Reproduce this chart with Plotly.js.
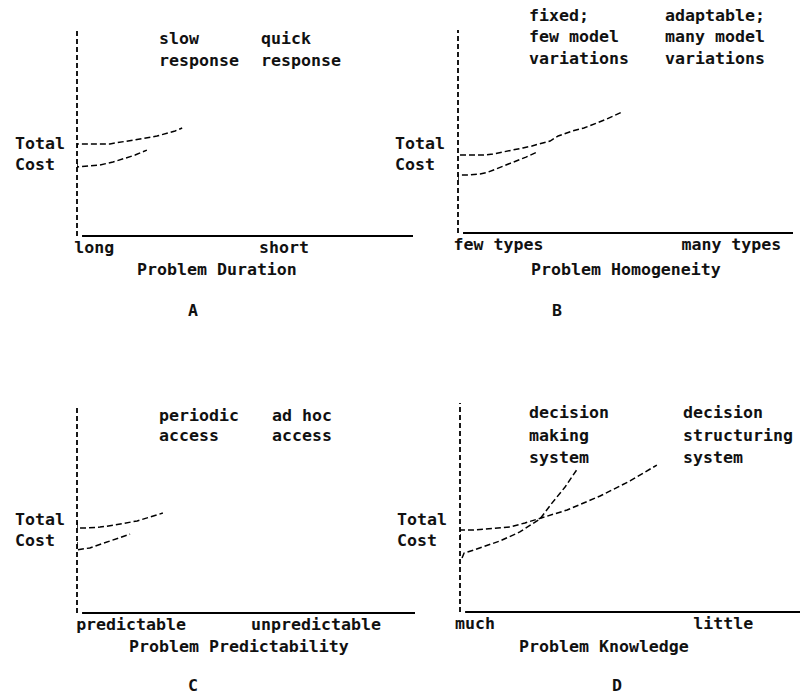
<!DOCTYPE html>
<html><head><meta charset="utf-8">
<script src="https://cdn.plot.ly/plotly-3.0.1.min.js"></script>
<style>html,body{margin:0;padding:0;background:#fff}#chart{width:801px;height:696px}</style>
</head><body><div id="chart"></div>
<script>
// ---- data (arbitrary 0-100 conceptual scale) ----
// Panel A: Problem Duration
const aTickVals = [5.1, 61.6];
const aTickText = ["long", "short"];
const aUpperX = [0, 0, 9.8, 20.8, 23.8, 29.2, 31.3];
const aUpperY = [42.7, 44.7, 44.7, 47.6, 48.5, 51.0, 52.4];
const aLowerX = [0, 0, 6.8, 10.7, 17.3, 20.8];
const aLowerY = [35.4, 33.5, 34.5, 35.9, 39.3, 41.7];
// Panel B: Problem Homogeneity
const bTickVals = [12.1, 81.6];
const bTickText = ["few types", "many types"];
const bUpperX = [0.6, 7.5, 10.4, 15.5, 19.4, 22.1, 27.5, 29.9, 34.0, 37.6, 44.5, 49.0];
const bUpperY = [38.4, 38.4, 38.9, 40.4, 41.9, 42.9, 45.3, 47.8, 50.2, 51.7, 56.2, 59.6];
const bLowerX = [0, 0, 3.6, 6.6, 9.0, 11.3, 18.5, 20.3, 23.6];
const bLowerY = [26.1, 28.6, 28.6, 29.1, 30.0, 31.5, 36.0, 37.4, 39.9];
// Panel C: Problem Predictability
const cTickVals = [16.0, 70.7];
const cTickText = ["predictable", "unpredictable"];
const cUpperX = [0, 0, 3.0, 6.8, 11.2, 17.8, 21.6, 25.4];
const cUpperY = [44.2, 41.3, 41.3, 41.7, 42.7, 44.7, 46.6, 48.5];
const cLowerX = [0, 0, 3.8, 8.3, 15.7];
const cLowerY = [34.5, 30.6, 31.6, 34.0, 38.3];
// Panel D: Problem Knowledge
const dTickVals = [4.4, 77.4];
const dTickText = ["much", "little"];
const dMakingX = [0.6, 1.2, 4.1, 11.8, 17.6, 23.5, 27.1, 30.9, 34.7];
const dMakingY = [25.8, 28.2, 29.7, 34.0, 38.3, 44.5, 52.2, 59.8, 68.9];
const dStructX = [0, 0, 3.8, 10.3, 14.7, 19.1, 25.0, 31.5, 41.2, 50.0, 57.9];
const dStructY = [34.4, 39.2, 39.2, 40.2, 40.7, 42.6, 45.5, 48.8, 55.5, 62.7, 70.3];

// ---- text ----
const axisTitles = ["Problem Duration", "Problem Homogeneity", "Problem Predictability", "Problem Knowledge"];
const panelLetters = ["A", "B", "C", "D"];
const yLabel = ["Total", "Cost"];
const headA = [["slow", "response"], ["quick", "response"]];
const headB = [["fixed;", "few model", "variations"], ["adaptable;", "many model", "variations"]];
const headC = [["periodic", "access"], ["ad hoc", "access"]];
const headD = [["decision", "making", "system"], ["decision", "structuring", "system"]];

// ---- layout geometry (pixels in the 801x696 canvas) ----
const W = 801, H = 696;
const FONT = {family: "DejaVu Sans Mono", size: 16.6, color: "#111", weight: "bold"};
const px = x => x / W;
const py = y => 1 - y / H;

const boxes = [
  {l: 77, r: 413, t: 30, b: 236},
  {l: 458, r: 793, t: 30, b: 233},
  {l: 77, r: 415, t: 407, b: 613},
  {l: 460, r: 800, t: 403, b: 612}
];
const ticks = [[aTickVals, aTickText], [bTickVals, bTickText], [cTickVals, cTickText], [dTickVals, dTickText]];

const layout = {
  width: W, height: H,
  margin: {l: 0, r: 0, t: 0, b: 0},
  paper_bgcolor: "#fff", plot_bgcolor: "#fff",
  showlegend: false,
  font: FONT,
  shapes: [],
  annotations: []
};

boxes.forEach((bx, i) => {
  const n = i === 0 ? "" : String(i + 1);
  layout["xaxis" + n] = {
    domain: [px(bx.l), px(bx.r)], range: [0, 100], anchor: "y" + n,
    showline: false, showgrid: false, zeroline: false,
    ticks: "", tickvals: ticks[i][0], ticktext: ticks[i][1], tickfont: FONT,
    ticklabelstandoff: -1,
    fixedrange: true
  };
  layout["yaxis" + n] = {
    domain: [py(bx.b), py(bx.t)], range: [0, 100], anchor: "x" + n,
    showline: false, showgrid: false, zeroline: false, showticklabels: false, ticks: "",
    fixedrange: true
  };
  // dashed vertical axis
  layout.shapes.push({
    type: "line", xref: "x" + n + " domain", yref: "y" + n + " domain",
    x0: 0, x1: 0, y0: 0, y1: 1,
    line: {color: "#000", width: 1.8, dash: "5px,3px"}
  });
  // solid horizontal axis, starting just right of the vertical one
  layout.shapes.push({
    type: "line", xref: "x" + n + " domain", yref: "y" + n + " domain",
    x0: 0.015, x1: 1, y0: 0, y1: 0,
    line: {color: "#000", width: 2.2}
  });
});

function ann(text, x, y, xanchor) {
  layout.annotations.push({
    text: text, xref: "paper", yref: "paper", x: px(x), y: py(y),
    xanchor: xanchor || "left", yanchor: "middle", showarrow: false, font: FONT
  });
}
// axis titles and letters
const titlePos = [[217, 269], [626, 269], [239, 646], [604, 646]];
const letterPos = [[193, 310], [557, 310], [193, 685], [617, 685]];
axisTitles.forEach((t, i) => ann(t, titlePos[i][0], titlePos[i][1], "center"));
panelLetters.forEach((t, i) => ann(t, letterPos[i][0], letterPos[i][1], "center"));
// Total Cost labels
const yLabPos = [[13, 143], [393, 143], [13, 519], [395, 519]];
yLabPos.forEach(p => { ann(yLabel[0], p[0], p[1]); ann(yLabel[1], p[0], p[1] + 21); });
// header labels
function head(lines, x, y0, dy) { lines.forEach((s, k) => ann(s, x, y0 + k * dy)); }
head(headA[0], 157, 38, 22); head(headA[1], 259, 38, 22);
head(headB[0], 527, 15, 21.5); head(headB[1], 663, 15, 21.5);
head(headC[0], 157, 415, 21); head(headC[1], 270, 415, 21);
head(headD[0], 527, 413, 22); head(headD[1], 681, 413, 22);

const lineStyle = {color: "#000", width: 1.5, dash: "6px,3px"};
function tr(x, y, n) {
  return {x: x, y: y, xaxis: "x" + n, yaxis: "y" + n, type: "scatter", mode: "lines",
          line: lineStyle, hoverinfo: "skip"};
}
const data = [
  tr(aUpperX, aUpperY, ""), tr(aLowerX, aLowerY, ""),
  tr(bUpperX, bUpperY, "2"), tr(bLowerX, bLowerY, "2"),
  tr(cUpperX, cUpperY, "3"), tr(cLowerX, cLowerY, "3"),
  tr(dMakingX, dMakingY, "4"), tr(dStructX, dStructY, "4")
];

Plotly.newPlot("chart", data, layout, {staticPlot: true, displayModeBar: false});
</script>
</body></html>
